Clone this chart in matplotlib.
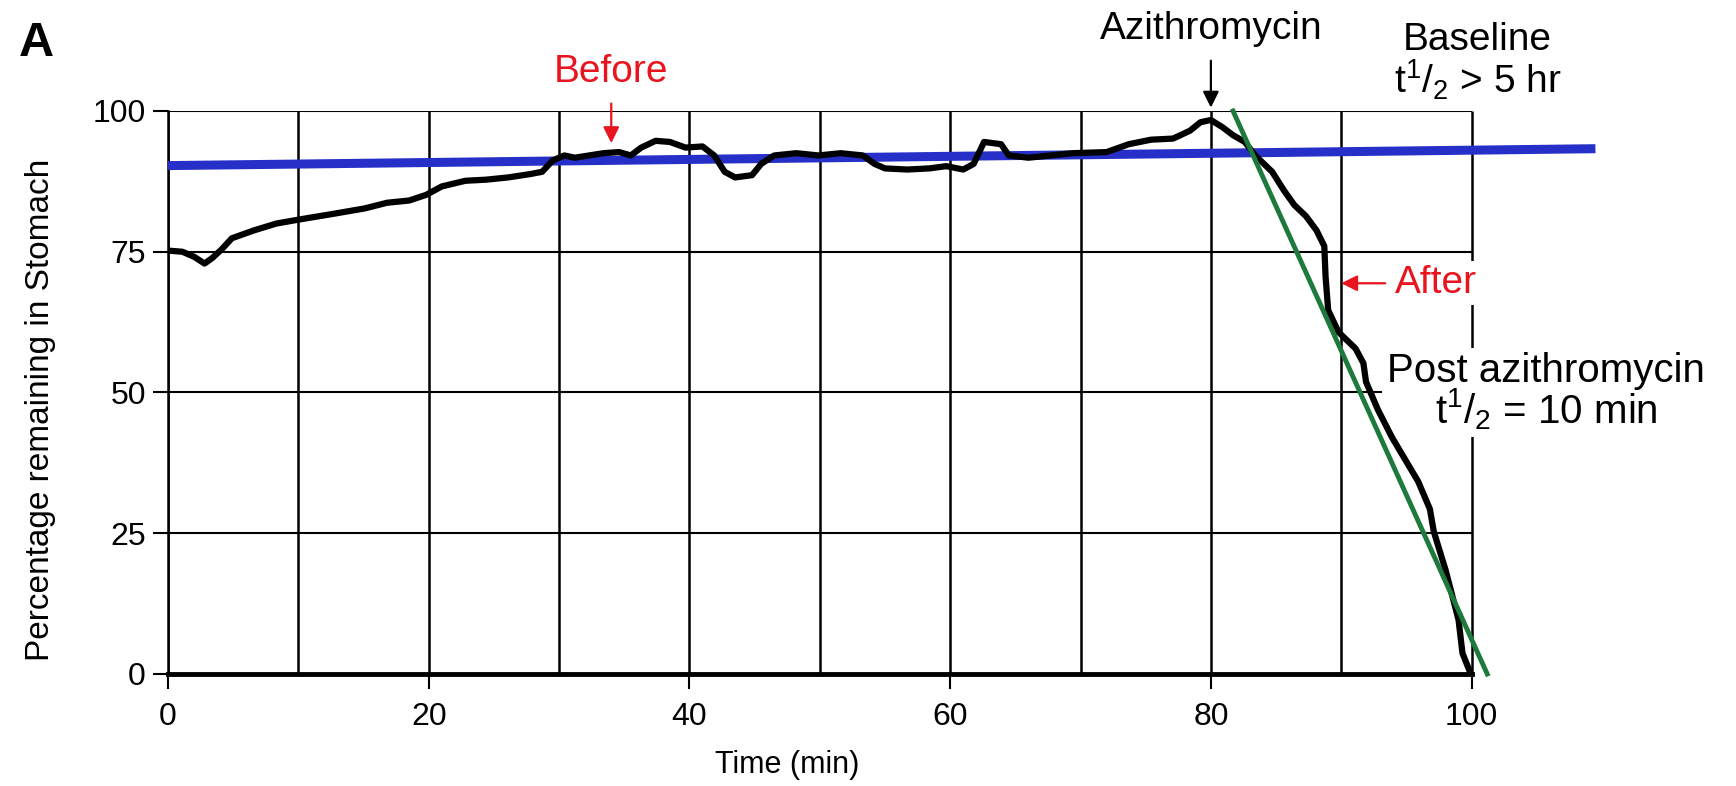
import matplotlib
matplotlib.use("Agg")
import matplotlib.pyplot as plt

plt.rcParams['font.family'] = ['Liberation Sans', 'DejaVu Sans']
plt.rcParams['mathtext.fontset'] = 'custom'
plt.rcParams['mathtext.rm'] = 'Liberation Sans'
plt.rcParams['mathtext.it'] = 'Liberation Sans'

# gastric emptying trace (black)
time_min = [0, 1.1, 2, 2.8, 3.4, 4.1, 4.9, 6.6, 8.3, 10, 12.6, 15.1, 16.8, 18.5, 19.8,
            21, 22.8, 24.4, 26.1, 27.8, 28.7, 29.5, 30.4, 31.2, 33.4, 34.6, 35.5, 36.3,
            37.4, 38.5, 39.7, 41, 41.9, 42.7, 43.5, 44.8, 45.5, 46.5, 48.2, 49.9, 51.6,
            53.3, 54.2, 55, 56.7, 58.4, 59.7, 61, 61.8, 62.6, 63.9, 64.5, 66, 67.7, 69.4,
            72, 73.7, 75.4, 77.1, 78.4, 79.2, 80, 80.9, 81.7, 82.6, 83.4, 84.7, 85.6,
            86.4, 87.3, 88.1, 88.7, 88.8, 89, 89.8, 91.1, 91.7, 91.9, 92.8, 93.9, 94.9,
            95.9, 96.8, 97.1, 98, 99, 99.3, 99.8]
pct_remaining = [75.2, 75, 74.1, 72.9, 73.9, 75.4, 77.4, 78.8, 80, 80.7, 81.7, 82.7, 83.7,
                 84.1, 85.1, 86.6, 87.6, 87.8, 88.2, 88.8, 89.2, 91.2, 92.1, 91.7, 92.5,
                 92.7, 92.1, 93.5, 94.7, 94.5, 93.5, 93.7, 92.1, 89.2, 88.2, 88.6, 90.6,
                 92.1, 92.5, 92.1, 92.5, 92.1, 90.6, 89.8, 89.6, 89.8, 90.2, 89.6, 90.6,
                 94.5, 94.1, 92.1, 91.7, 92.1, 92.5, 92.7, 94.1, 94.9, 95.1, 96.5, 98,
                 98.4, 97.1, 95.7, 94.5, 92.1, 89.2, 85.9, 83.3, 81.3, 78.8, 76, 70.5,
                 64.6, 60.7, 57.8, 55.2, 51.9, 47, 42, 38.1, 34.2, 29.3, 25.3, 18.5, 9.6,
                 3.7, 0.8]

# baseline fit (blue) and post azithromycin fit (green)
baseline_x = [0, 109.5]
baseline_y = [90.3, 93.3]
post_x = [81.7, 101.2]
post_y = [100, 0]

x_ticks = [0, 20, 40, 60, 80, 100]
y_ticks = [0, 25, 50, 75, 100]
x_grid = [0, 10, 20, 30, 40, 50, 60, 70, 80, 90, 100]
y_grid = [25, 50, 75, 100]

fig = plt.figure(figsize=(17.36, 7.86), dpi=100)
ax = fig.add_axes([0.0968, 0.1425, 0.841, 0.7163])
ax.set_xlim(0, 112)
ax.set_ylim(0, 100)

# grid box
ax.vlines(x_grid, 0, 100, color='black', lw=1.8, zorder=1)
ax.hlines(y_grid, 0, 100, color='black', lw=1.5, zorder=1)

for s in ['top', 'right']:
    ax.spines[s].set_visible(False)
ax.spines['left'].set_bounds(0, 100)
ax.spines['left'].set_linewidth(1.8)
ax.spines['bottom'].set_bounds(0, 100)
ax.spines['bottom'].set_linewidth(3.5)

ax.plot(baseline_x, baseline_y, color='#2630c8', lw=6.5, solid_capstyle='butt', zorder=3,
        clip_on=False)
ax.plot(time_min, pct_remaining, color='black', lw=4.5, solid_joinstyle='round', zorder=4)
ax.plot(post_x, post_y, color='#1e7a3c', lw=3.5, zorder=5, clip_on=False)

ax.set_xticks(x_ticks)
ax.set_yticks(y_ticks)
ax.tick_params(axis='both', direction='out', length=11, width=1.5, labelsize=23)
ax.tick_params(axis='x', pad=9)
ax.tick_params(axis='y', pad=5)

ax.set_xlabel('Time (min)', fontsize=22)
ax.xaxis.set_label_coords(0.424, -0.135)
ax.set_ylabel('Percentage remaining in Stomach', fontsize=24)
ax.yaxis.set_label_coords(-0.077, 0.469)

fig.text(0.011, 0.945, 'A', fontsize=35, fontweight='bold', va='center', ha='left')

arrow_k = dict(arrowstyle='-|>', lw=1.6, mutation_scale=24)
ax.annotate('Before', xy=(34.0, 94.3), xytext=(34.0, 107.0), color='#e8141e', fontsize=28,
            ha='center', va='center', annotation_clip=False,
            arrowprops=dict(color='#e8141e', shrinkA=8, shrinkB=0, **arrow_k))
ax.annotate('Azithromycin', xy=(80, 100.6), xytext=(80, 114.6), color='black', fontsize=28,
            ha='center', va='center', annotation_clip=False,
            arrowprops=dict(color='black', shrinkA=8, shrinkB=0, **arrow_k))
ax.text(100.4, 112.6, 'Baseline', fontsize=28, ha='center', va='center')
ax.text(100.5, 105.6, r't$^1$/$_2$ > 5 hr', fontsize=28, ha='center', va='center')

# white boxes sit above the grid but under the traces
ax.annotate('After', xy=(90.0, 69.4), xytext=(94.1, 69.4), color='#e8141e', fontsize=28,
            ha='left', va='center', annotation_clip=False,
            bbox=dict(boxstyle='square,pad=0.1', fc='white', ec='none'),
            arrowprops=dict(color='#e8141e', shrinkA=4, shrinkB=0, **arrow_k), zorder=2)
ax.text(105.7, 50.1, 'Post azithromycin\n' + r't$^1$/$_2$ = 10 min', fontsize=29,
        ha='center', va='center', linespacing=0.9,
        bbox=dict(boxstyle='square,pad=0.12', fc='white', ec='none'), zorder=2)

fig.savefig('out.png', dpi=100)
